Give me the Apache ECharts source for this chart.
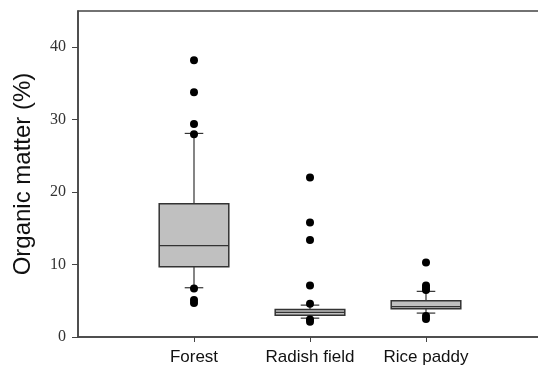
<!DOCTYPE html>
<html>
<head>
<meta charset="utf-8">
<script src="https://cdn.jsdelivr.net/npm/echarts@6/dist/echarts.min.js"></script>
<style>
html,body{margin:0;padding:0;background:#fff;}
#main{width:538px;height:371px;}
</style>
</head>
<body>
<div id="main"></div>
<script>
// 数据
var categories = ['Forest', 'Radish field', 'Rice paddy'];
var whiskerLow = [6.8, 2.6, 3.3];
var q1 = [9.7, 3.0, 3.9];
var median = [12.6, 3.4, 4.2];
var q3 = [18.4, 3.8, 5.0];
var whiskerHigh = [28.1, 4.4, 6.3];
var outliersForest = [38.2, 33.8, 29.4, 28.0, 6.7, 5.1, 4.7];
var outliersRadish = [22.0, 15.8, 13.4, 7.1, 4.6, 2.4, 2.1];
var outliersRice = [10.3, 7.1, 6.8, 6.5, 2.9, 2.5];
var yTicks = [0, 10, 20, 30, 40];

var boxWidth = 0.6;   // 以x轴单位计
var capWidth = 0.16;

var boxData = [];
for (var i = 0; i < categories.length; i++) {
    boxData.push([i + 1, whiskerLow[i], q1[i], median[i], q3[i], whiskerHigh[i]]);
}
var outlierData = [];
[outliersForest, outliersRadish, outliersRice].forEach(function (arr, i) {
    arr.forEach(function (v) { outlierData.push([i + 1, v]); });
});

function renderBox(params, api) {
    var x = api.value(0);
    var pLow = api.coord([x, api.value(1)]);
    var pQ1 = api.coord([x, api.value(2)]);
    var pMed = api.coord([x, api.value(3)]);
    var pQ3 = api.coord([x, api.value(4)]);
    var pHigh = api.coord([x, api.value(5)]);
    var bw = api.size([boxWidth, 0])[0];
    var cw = api.size([capWidth, 0])[0];
    var cx = pMed[0];
    var lineStyle = {stroke: '#333', lineWidth: 1.2, fill: null};
    return {
        type: 'group',
        children: [
            {type: 'line', shape: {x1: cx, y1: pQ3[1], x2: cx, y2: pHigh[1]}, style: lineStyle},
            {type: 'line', shape: {x1: cx, y1: pQ1[1], x2: cx, y2: pLow[1]}, style: lineStyle},
            {type: 'line', shape: {x1: cx - cw / 2, y1: pHigh[1], x2: cx + cw / 2, y2: pHigh[1]}, style: lineStyle},
            {type: 'line', shape: {x1: cx - cw / 2, y1: pLow[1], x2: cx + cw / 2, y2: pLow[1]}, style: lineStyle},
            {type: 'rect', shape: {x: cx - bw / 2, y: pQ3[1], width: bw, height: pQ1[1] - pQ3[1]},
                style: {fill: '#c0c0c0', stroke: '#333', lineWidth: 1.5}},
            {type: 'line', shape: {x1: cx - bw / 2, y1: pMed[1], x2: cx + bw / 2, y2: pMed[1]}, style: lineStyle}
        ]
    };
}

var chart = echarts.init(document.getElementById('main'));
chart.setOption({
    animation: false,
    backgroundColor: '#fff',
    grid: {left: 78, top: 11, width: 464, bottom: 34, outerBoundsMode: 'none',
        show: true, borderColor: '#444', borderWidth: 1.5},
    xAxis: {
        type: 'value', min: 0, max: 4, interval: 1,
        splitLine: {show: false},
        axisLine: {show: true, lineStyle: {color: '#444', width: 1.5}},
        axisTick: {show: true, customValues: [1, 2, 3], length: 5, inside: false, lineStyle: {color: '#444'}},
        axisLabel: {
            customValues: [1, 2, 3], margin: 12,
            fontFamily: 'Liberation Sans, Arial, sans-serif', fontSize: 17, color: '#111',
            formatter: function (v) { return categories[Math.round(v) - 1] || ''; }
        }
    },
    yAxis: {
        type: 'value', min: 0, max: 45, interval: 10,
        name: 'Organic matter (%)', nameLocation: 'middle', nameGap: 43,
        nameTextStyle: {fontFamily: 'Liberation Sans, Arial, sans-serif', fontSize: 24, color: '#111'},
        splitLine: {show: false},
        axisLine: {show: true, lineStyle: {color: '#444', width: 1.5}},
        axisTick: {show: true, customValues: yTicks, length: 6, lineStyle: {color: '#444'}},
        axisLabel: {
            customValues: yTicks, margin: 12,
            fontFamily: 'Liberation Serif, Times New Roman, serif', fontSize: 16, color: '#333'
        }
    },
    series: [
        {type: 'custom', renderItem: renderBox, data: boxData, encode: {x: 0, y: [1, 2, 3, 4, 5]}, z: 2},
        {type: 'scatter', data: outlierData, symbol: 'circle', symbolSize: 8,
            itemStyle: {color: '#000', opacity: 1}, z: 3}
    ]
});
</script>
</body>
</html>
